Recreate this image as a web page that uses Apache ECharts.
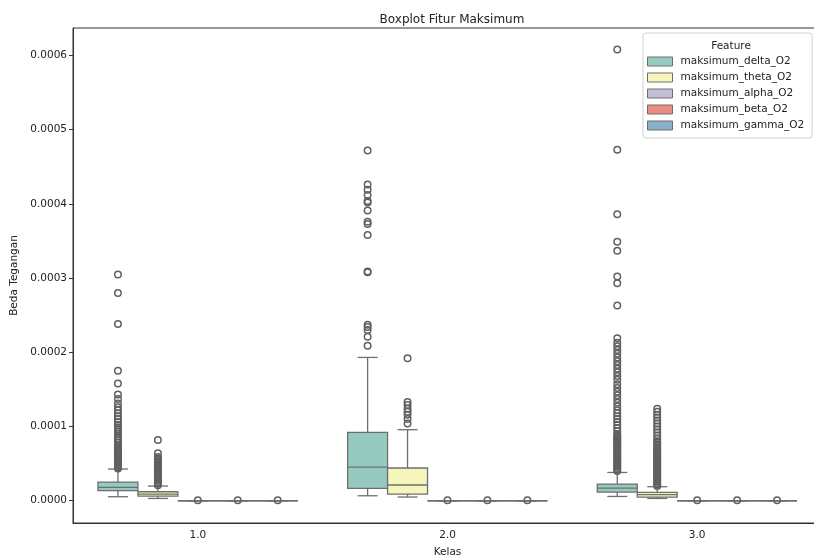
<!DOCTYPE html>
<html lang="en">
<head>
    <meta charset="UTF-8">
    <title>Boxplot Fitur Maksimum</title>
    <script src="https://cdn.jsdelivr.net/npm/echarts@6/dist/echarts.min.js"></script>
    <style>
        body { margin: 0; padding: 0; background: #fff; }
        #chart { width: 814px; height: 560px; }
    </style>
</head>
<body>
<div id="chart"></div>
<script>
    // kelas
    const classes = ['1.0', '2.0', '3.0']
    const features = ['maksimum_delta_O2', 'maksimum_theta_O2', 'maksimum_alpha_O2', 'maksimum_beta_O2', 'maksimum_gamma_O2']
    const colors = ['#96cac1', '#f6f6bc', '#c1bed6', '#ea8e83', '#8aafc9']

    // [min, q1, median, q3, max] per kelas
    const deltaStats = [
        [0.0000054, 0.0000135, 0.0000179, 0.0000252, 0.0000427],
        [0.0000067, 0.0000166, 0.0000454, 0.0000920, 0.0001931],
        [0.0000058, 0.0000117, 0.0000171, 0.0000225, 0.0000381]
    ]
    const thetaStats = [
        [0.0000031, 0.0000063, 0.0000088, 0.0000121, 0.0000198],
        [0.0000050, 0.0000090, 0.0000212, 0.0000441, 0.0000957],
        [0.0000031, 0.0000050, 0.0000081, 0.0000112, 0.0000189]
    ]
    const alphaStats = [[0, 0, 0, 0, 0], [0, 0, 0, 0, 0], [0, 0, 0, 0, 0]]
    const betaStats = [[0, 0, 0, 0, 0], [0, 0, 0, 0, 0], [0, 0, 0, 0, 0]]
    const gammaStats = [[0, 0, 0, 0, 0], [0, 0, 0, 0, 0], [0, 0, 0, 0, 0]]

    // outlier per kelas
    const deltaOut = [
        [0.0000435, 0.000045, 0.000047, 0.000049, 0.000051, 0.000053, 0.000055, 0.000057, 0.000059, 0.000061,
            0.000063, 0.000065, 0.000067, 0.000069, 0.000071, 0.000073, 0.000075, 0.000078, 0.000081, 0.000084,
            0.000087, 0.00009, 0.000093, 0.000096, 0.000099, 0.000102, 0.000106, 0.00011, 0.000114, 0.000118,
            0.000122, 0.000126, 0.000131, 0.000137, 0.000143, 0.000158, 0.000175, 0.000238, 0.00028, 0.000305],
        [0.000209, 0.000221, 0.00023, 0.000234, 0.000237, 0.000308, 0.000309, 0.000358, 0.000373, 0.000376,
            0.000391, 0.000402, 0.000404, 0.000412, 0.000419, 0.000426, 0.000472],
        [0.00004, 0.000042, 0.000044, 0.000046, 0.000048, 0.00005, 0.000052, 0.000054, 0.000056, 0.000058,
            0.00006, 0.000062, 0.000064, 0.000066, 0.000068, 0.00007, 0.000072, 0.000074, 0.000076, 0.000078,
            0.00008, 0.000082, 0.000084, 0.000086, 0.000088, 0.00009, 0.000094, 0.000098, 0.000102, 0.000106,
            0.00011, 0.000114, 0.000118, 0.000122, 0.000127, 0.000132, 0.000137, 0.000142, 0.000147, 0.000152,
            0.000157, 0.000163, 0.000168, 0.000173, 0.000178, 0.000183, 0.000188, 0.000193, 0.000198, 0.000203,
            0.000208, 0.000213, 0.000219, 0.000263, 0.000293, 0.000302, 0.000337, 0.000349, 0.000386, 0.000473,
            0.000608]
    ]
    const thetaOut = [
        [0.000021, 0.000023, 0.000025, 0.000027, 0.000029, 0.000031, 0.000033, 0.000035, 0.000037, 0.000039,
            0.000041, 0.000043, 0.000045, 0.000047, 0.000049, 0.000051, 0.000053, 0.000055, 0.000057, 0.000059,
            0.000064, 0.000082],
        [0.000104, 0.00011, 0.000116, 0.00012, 0.000124, 0.000129, 0.000133, 0.000192],
        [0.00002, 0.000022, 0.000024, 0.000026, 0.000028, 0.00003, 0.000032, 0.000034, 0.000036, 0.000038,
            0.00004, 0.000042, 0.000044, 0.000046, 0.000048, 0.00005, 0.000052, 0.000054, 0.000056, 0.000058,
            0.00006, 0.000062, 0.000064, 0.000066, 0.000068, 0.00007, 0.000072, 0.000074, 0.000076, 0.000078,
            0.00008, 0.000084, 0.000088, 0.000092, 0.000096, 0.0001, 0.000104, 0.000108, 0.000112, 0.000116,
            0.00012, 0.000124]
    ]
    const alphaOut = [[0.0000005], [0.0000005], [0.0000005]]
    const betaOut = [[0.0000005], [0.0000005], [0.0000005]]
    const gammaOut = [[0.0000005], [0.0000005], [0.0000005]]

    const yTicks = [0, 0.0001, 0.0002, 0.0003, 0.0004, 0.0005, 0.0006]

    const allStats = [deltaStats, thetaStats, alphaStats, betaStats, gammaStats]
    const allOut = [deltaOut, thetaOut, alphaOut, betaOut, gammaOut]
    const BOX_W = 0.16
    const GRAY = '#6e6e6e'
    const DOT = '#606060'
    const FONT = 'DejaVu Sans'

    function renderBox(params, api) {
        const x = api.value(0)
        const color = api.visual('color')
        const lo = api.coord([x, api.value(1)])
        const q1 = api.coord([x, api.value(2)])
        const md = api.coord([x, api.value(3)])
        const q3 = api.coord([x, api.value(4)])
        const hi = api.coord([x, api.value(5)])
        const left = api.coord([x - BOX_W / 2, 0])[0]
        const right = api.coord([x + BOX_W / 2, 0])[0]
        const capL = api.coord([x - BOX_W / 4, 0])[0]
        const capR = api.coord([x + BOX_W / 4, 0])[0]
        const ls = { stroke: GRAY, lineWidth: 1.3 }
        return {
            type: 'group',
            children: [
                { type: 'line', shape: { x1: lo[0], y1: lo[1], x2: q1[0], y2: q1[1] }, style: ls },
                { type: 'line', shape: { x1: q3[0], y1: q3[1], x2: hi[0], y2: hi[1] }, style: ls },
                { type: 'line', shape: { x1: capL, y1: lo[1], x2: capR, y2: lo[1] }, style: ls },
                { type: 'line', shape: { x1: capL, y1: hi[1], x2: capR, y2: hi[1] }, style: ls },
                {
                    type: 'rect',
                    shape: { x: left, y: q3[1], width: right - left, height: q1[1] - q3[1] },
                    style: { fill: color, stroke: GRAY, lineWidth: 1.3 }
                },
                { type: 'line', shape: { x1: left, y1: md[1], x2: right, y2: md[1] }, style: ls }
            ]
        }
    }

    const series = []
    features.forEach(function (name, k) {
        const off = (k - 2) * BOX_W
        series.push({
            name: name,
            type: 'custom',
            xAxisIndex: 1,
            renderItem: renderBox,
            itemStyle: { color: colors[k] },
            data: allStats[k].map((s, i) => [i + off].concat(s)),
            z: 2
        })
        const pts = []
        allOut[k].forEach((vals, i) => vals.forEach(v => pts.push([i + off, v])))
        series.push({
            name: name,
            type: 'scatter',
            xAxisIndex: 1,
            symbol: 'circle',
            symbolSize: 6.5,
            itemStyle: { color: 'rgba(0,0,0,0)', borderColor: DOT, borderWidth: 1.5, opacity: 1 },
            emphasis: { disabled: true },
            data: pts,
            z: 3
        })
    })

    const chart = echarts.init(document.getElementById('chart'), null, { renderer: 'canvas' })
    chart.setOption({
        animation: false,
        backgroundColor: '#fff',
        textStyle: { fontFamily: FONT },
        title: [
            {
                text: 'Boxplot Fitur Maksimum', left: 447, top: 9, textAlign: 'center',
                textStyle: { fontFamily: FONT, fontSize: 12, fontWeight: 'normal', color: '#222' }
            },
            {
                text: 'Feature', left: 726, top: 36, textAlign: 'center',
                textStyle: { fontFamily: FONT, fontSize: 10.5, fontWeight: 'normal', color: '#222' }
            }
        ],
        legend: {
            orient: 'vertical',
            left: 643,
            top: 33,
            padding: [22, 8, 6, 4],
            itemWidth: 25,
            itemHeight: 9,
            itemGap: 3,
            icon: 'rect',
            selectedMode: false,
            borderColor: '#d0d0d0',
            borderWidth: 1,
            borderRadius: 3,
            backgroundColor: 'rgba(255,255,255,0.85)',
            textStyle: { fontFamily: FONT, fontSize: 10.5, color: '#222', lineHeight: 13, padding: [0, 0, 0, 3] },
            data: features.map((f, k) => ({
                name: f,
                itemStyle: { color: colors[k], borderColor: GRAY, borderWidth: 1 }
            }))
        },
        grid: {
            left: 73, top: 28, width: 749, height: 495,
            outerBoundsMode: 'none',
            containLabel: false,
            show: true, borderColor: '#333', borderWidth: 1, backgroundColor: 'transparent'
        },
        xAxis: [
            {
                type: 'category',
                data: classes,
                name: 'Kelas',
                nameLocation: 'middle',
                nameGap: 24,
                nameTextStyle: { fontFamily: FONT, fontSize: 10.5, color: '#222' },
                axisLine: { onZero: false, lineStyle: { color: '#333', width: 1 } },
                axisTick: { alignWithLabel: true, length: 4, lineStyle: { color: '#333' } },
                axisLabel: { fontFamily: FONT, fontSize: 10.5, color: '#222', margin: 7 },
                splitLine: { show: false }
            },
            {
                type: 'value',
                min: -0.5,
                max: 2.5,
                show: false
            }
        ],
        yAxis: {
            type: 'value',
            min: -0.00003,
            max: 0.000637,
            name: 'Beda Tegangan',
            nameLocation: 'middle',
            nameGap: 52,
            nameTextStyle: { fontFamily: FONT, fontSize: 10.5, color: '#222' },
            axisLine: { show: true, onZero: false, lineStyle: { color: '#333', width: 1 } },
            axisTick: { show: true, length: 4, customValues: yTicks, lineStyle: { color: '#333' } },
            axisLabel: {
                fontFamily: FONT, fontSize: 10.5, color: '#222', margin: 6,
                customValues: yTicks,
                formatter: v => v.toFixed(4)
            },
            splitLine: { show: false }
        },
        series: series
    })
</script>
</html>
